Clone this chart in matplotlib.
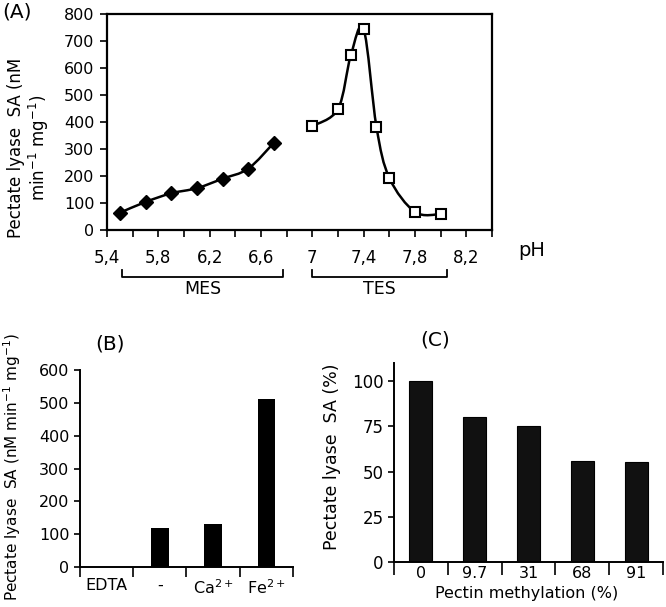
import numpy as np
import matplotlib
matplotlib.use("Agg")
import matplotlib.pyplot as plt
from matplotlib.path import Path
from matplotlib.patches import PathPatch
import matplotlib.transforms as mtransforms

plt.rcParams['font.family'] = ['DejaVu Sans']
plt.rcParams['mathtext.default'] = 'regular'

# panel A: pH profile
mes_ph = [5.5, 5.7, 5.9, 6.1, 6.3, 6.5, 6.7]
mes_sa = [64, 104, 136, 155, 190, 227, 323]
tes_ph = [7.0, 7.2, 7.3, 7.4, 7.5, 7.6, 7.8, 8.0]
tes_sa = [385, 448, 647, 744, 381, 193, 67, 59]
ph_ticks = [5.4, 5.8, 6.2, 6.6, 7.0, 7.4, 7.8, 8.2]
ph_labels = ["5,4", "5,8", "6,2", "6,6", "7", "7,4", "7,8", "8,2"]

# panel B: metal ions
ions = ["EDTA", "-", "Ca$^{2+}$", "Fe$^{2+}$"]
ion_sa = [0, 118, 130, 512]

# panel C: pectin methylation
methyl = ["0", "9.7", "31", "68", "91"]
methyl_sa = [100, 80, 75, 56, 55]


def smooth_path(x, y):
    # excel-like smoothed line: bezier segments through the points
    p = np.column_stack([x, y]).astype(float)
    n = len(p)
    verts = [p[0]]
    codes = [Path.MOVETO]
    for i in range(n - 1):
        p0 = p[i - 1] if i > 0 else p[i]
        p3 = p[i + 2] if i + 2 < n else p[i + 1]
        c1 = p[i] + (p[i + 1] - p0) / 6.0
        c2 = p[i + 1] - (p3 - p[i]) / 6.0
        verts += [c1, c2, p[i + 1]]
        codes += [Path.CURVE4] * 3
    return Path(verts, codes)


fig = plt.figure(figsize=(6.66, 6.07), dpi=100)

# ---- (A)
axA = fig.add_axes([0.1607, 0.621, 0.578, 0.356])
for xs, ys in [(mes_ph, mes_sa), (tes_ph, tes_sa)]:
    axA.add_patch(PathPatch(smooth_path(xs, ys), fill=False, lw=1.8, ec='black', zorder=2))
axA.plot(mes_ph, mes_sa, ls='none', marker='D', ms=7.5, color='black', zorder=3)
axA.plot(tes_ph, tes_sa, ls='none', marker='s', ms=7.2, mfc='white', mec='black',
         mew=1.5, zorder=3)
axA.set_xlim(5.4, 8.4)
axA.set_ylim(0, 800)
axA.set_xticks(ph_ticks)
axA.set_xticklabels(ph_labels)
axA.set_xticks(np.arange(5.6, 8.4, 0.4), minor=True)
axA.set_yticks(range(0, 801, 100))
axA.tick_params(axis='both', which='both', direction='out', length=5, width=1.2)
axA.tick_params(axis='x', labelsize=12, pad=9)
axA.tick_params(axis='y', labelsize=11.5, pad=4)
for s in axA.spines.values():
    s.set_linewidth(1.6)
axA.text(1.068, -0.093, "pH", transform=axA.transAxes, fontsize=14,
         ha='left', va='center')

trans = mtransforms.blended_transform_factory(axA.transData, axA.transAxes)
for (x0, x1), name in [((5.52, 6.77), "MES"), ((7.0, 8.05), "TES")]:
    axA.plot([x0, x0, x1, x1], [-0.185, -0.218, -0.218, -0.185], color='black',
             lw=1.3, transform=trans, clip_on=False)
    axA.text((x0 + x1) / 2, -0.272, name, transform=trans, ha='center',
             va='center', fontsize=12.5)

fig.text(0.003, 1 - 3 / 607, "(A)", fontsize=14.5, ha='left', va='top')
fig.text(29 / 666, 1 - 148 / 607, "Pectate lyase  SA (nM\nmin$^{-1}$ mg$^{-1}$)",
         rotation=90, ha='center', va='center', fontsize=12, multialignment='center',
         linespacing=1.05)

# ---- (B)
axB = fig.add_axes([0.120, 0.0659, 0.320, 0.3245])
xb = np.arange(len(ions))
axB.bar(xb, ion_sa, width=0.33, color='black')
axB.set_xlim(-0.5, len(ions) - 0.5)
axB.set_ylim(0, 600)
axB.set_yticks(range(0, 601, 100))
axB.set_xticks(xb)
axB.set_xticklabels(ions)
axB.set_xticks(np.arange(-0.5, len(ions), 1.0), minor=True)
axB.tick_params(axis='x', which='major', length=0, labelsize=11.5, pad=8)
axB.tick_params(axis='x', which='minor', direction='out', length=7, width=1.2)
axB.tick_params(axis='y', direction='out', length=4, width=1.2, labelsize=11.5)
axB.spines['top'].set_visible(False)
axB.spines['right'].set_visible(False)
for s in ['left', 'bottom']:
    axB.spines[s].set_linewidth(1.4)
fig.text(95 / 666, 1 - 334 / 607, "(B)", fontsize=14.5, ha='left', va='top')
fig.text(12 / 666, 1 - 467 / 607, "Pectate lyase  SA (nM min$^{-1}$ mg$^{-1}$)",
         rotation=90, ha='center', va='center', fontsize=11)

# ---- (C)
axC = fig.add_axes([0.5916, 0.0741, 0.404, 0.328])
xc = np.arange(len(methyl))
axC.bar(xc, methyl_sa, width=0.43, color='#111111', edgecolor='black', lw=0.8)
axC.set_xlim(-0.5, len(methyl) - 0.5)
axC.set_ylim(0, 110)
axC.set_yticks([0, 25, 50, 75, 100])
axC.set_xticks(xc)
axC.set_xticklabels(methyl)
axC.set_xticks(np.arange(-0.5, len(methyl), 1.0), minor=True)
axC.tick_params(axis='x', which='major', length=0, labelsize=11.5, pad=3)
axC.tick_params(axis='x', which='minor', direction='out', length=9, width=1.2)
axC.tick_params(axis='y', direction='out', length=4, width=1.2, labelsize=12)
axC.spines['top'].set_visible(False)
axC.spines['right'].set_visible(False)
for s in ['left', 'bottom']:
    axC.spines[s].set_linewidth(1.4)
axC.set_xlabel("Pectin methylation (%)", fontsize=11.5)
axC.xaxis.set_label_coords(0.494, -0.118)
fig.text(420 / 666, 1 - 331 / 607, "(C)", fontsize=14.5, ha='left', va='top')
fig.text(332 / 666, 1 - 457 / 607, "Pectate lyase  SA (%)", rotation=90,
         ha='center', va='center', fontsize=12.5)

fig.savefig("out.png", dpi=100)
